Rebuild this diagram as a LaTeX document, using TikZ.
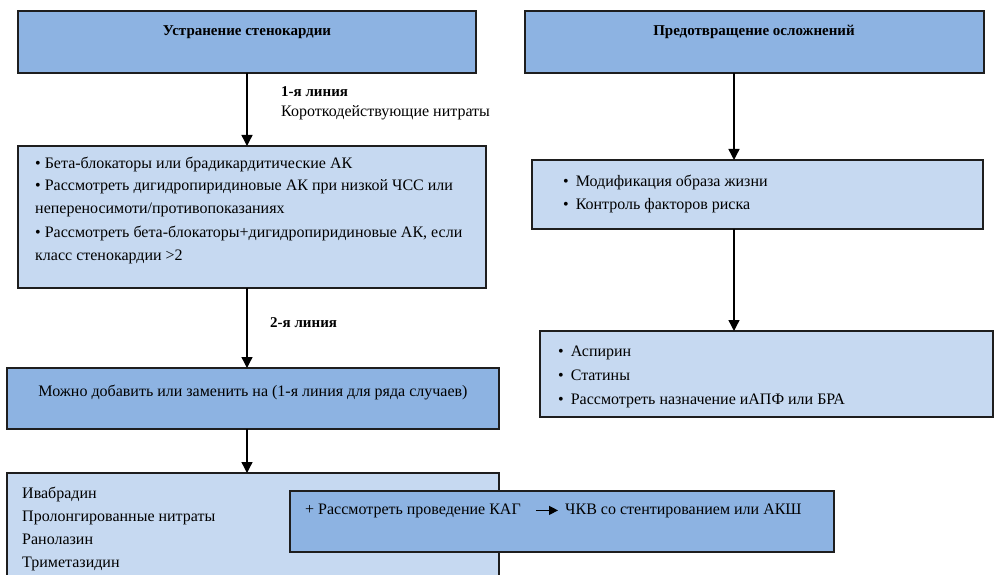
\documentclass[tikz,border=0pt]{standalone}
\usepackage{fontspec}
\setmainfont{Liberation Serif}
\usetikzlibrary{arrows.meta,calc}
\definecolor{hdr}{HTML}{8DB3E2}
\definecolor{lite}{HTML}{C6D9F1}
\definecolor{edge}{HTML}{1E1E1E}
\newcommand{\bl}{\textbullet\ }
\newcommand{\blw}{\textbullet\hspace{7pt}}
\begin{document}
\begin{tikzpicture}[x=1pt,y=-1pt,
  box/.style={draw=edge,line width=1.6pt,rectangle,inner sep=0pt,outer sep=0pt,anchor=north west},
  hbox/.style={box,fill=hdr},
  lbox/.style={box,fill=lite},
  txt/.style={inner sep=0pt,anchor=base west,font=\fontsize{16}{23}\selectfont},
  ctxt/.style={txt,anchor=base},
  btxt/.style={inner sep=0pt,anchor=base,font=\fontsize{15}{18}\selectfont\bfseries},
  ltxt/.style={btxt,anchor=base west},
  arr/.style={draw=black,line width=1.4pt,-{Triangle[width=11pt,length=11pt]}},
  sarr/.style={draw=black,line width=1.3pt,-{Triangle[width=9pt,length=9pt]}},
]
\useasboundingbox (0,0) rectangle (994,575);
\fill[white] (0,0) rectangle (994,575);

% boxes
\node[hbox,minimum width=458pt,minimum height=62pt] (A) at (18,11) {};
\node[hbox,minimum width=459pt,minimum height=62pt] (B) at (525,11) {};
\node[lbox,minimum width=468pt,minimum height=142pt] (C) at (18,146) {};
\node[lbox,minimum width=451pt,minimum height=69pt] (D) at (532,160) {};
\node[lbox,minimum width=453pt,minimum height=86pt] (E) at (540,331) {};
\node[hbox,minimum width=492pt,minimum height=61pt] (F) at (7,368) {};
\node[lbox,minimum width=492pt,minimum height=110pt] (G) at (7,473) {};
\node[hbox,minimum width=544pt,minimum height=61pt] (H) at (290,491) {};

% headers
\node[btxt] (ta) at (247,36) {Устранение стенокардии};
\node[btxt] (tb) at (754,36) {Предотвращение осложнений};

% labels on arrows
\node[ltxt] (l1) at (281,97) {1-я линия};
\node[txt] (l1b) at (281,117) {Короткодействующие нитраты};
\node[ltxt] (l2) at (270,327) {2-я линия};

% box C text
\node[txt] (c1) at (35,168) {\bl Бета-блокаторы или брадикардитические АК};
\node[txt] (c2) at (35,191) {\bl Рассмотреть дигидропиридиновые АК при низкой ЧСС или};
\node[txt] (c3) at (35,214) {непереносимоти/противопоказаниях};
\node[txt] (c4) at (35,237) {\bl Рассмотреть бета-блокаторы+дигидропиридиновые АК, если};
\node[txt] (c5) at (35,260) {класс стенокардии >2};

% box D text
\node[txt] (d1) at (563,187) {\blw Модификация образа жизни};
\node[txt] (d2) at (563,210) {\blw Контроль факторов риска};

% box E text
\node[txt] (e1) at (558,356) {\blw Аспирин};
\node[txt] (e2) at (558,380) {\blw Статины};
\node[txt] (e3) at (558,404) {\blw Рассмотреть назначение иАПФ или БРА};

% box F text
\node[ctxt] (f1) at (253,396) {Можно добавить или заменить на (1-я линия для ряда случаев)};

% box G text
\node[txt] (g1) at (22,498) {Ивабрадин};
\node[txt] (g2) at (22,521) {Пролонгированные нитраты};
\node[txt] (g3) at (22,544) {Ранолазин};
\node[txt] (g4) at (22,567) {Триметазидин};

% box H text
\node[txt] (kag) at (305,514) {+ Рассмотреть проведение КАГ};
\node[txt] (pci) at (565,514) {ЧКВ со стентированием или АКШ};

% connectors
\coordinate (bx) at (734,0);
\draw[arr] (A.south) -- (A.south |- C.north);
\draw[arr] (A.south |- C.south) -- (A.south |- F.north);
\draw[arr] (A.south |- F.south) -- (A.south |- G.north);
\draw[arr] (bx |- B.south) -- (bx |- D.north);
\draw[arr] (bx |- D.south) -- (bx |- E.north);
\draw[sarr,shorten <=15pt,shorten >=7pt] (kag.east) -- (kag.east -| pci.west);
\end{tikzpicture}
\end{document}
